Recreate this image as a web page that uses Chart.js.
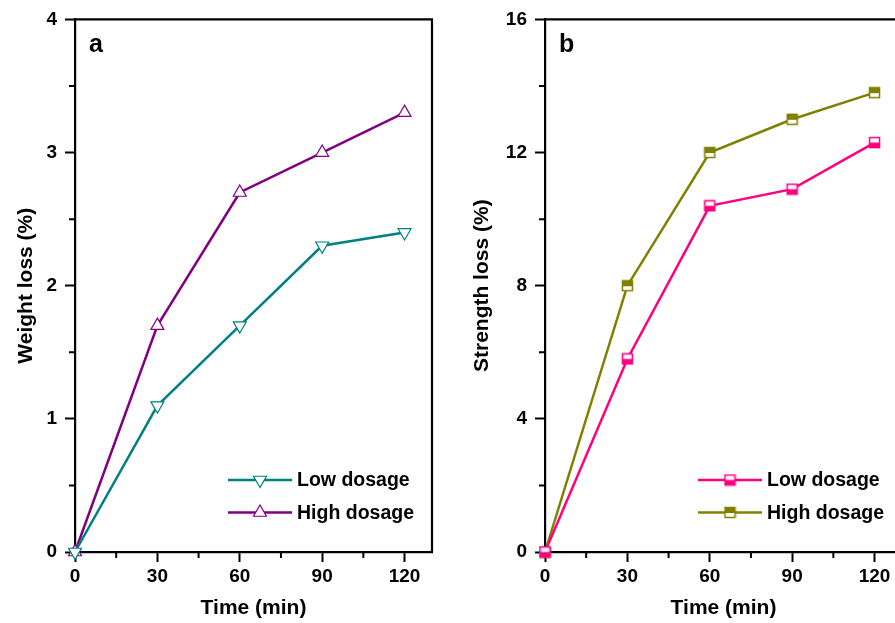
<!DOCTYPE html>
<html>
<head>
<meta charset="utf-8">
<script src="https://cdn.jsdelivr.net/npm/chart.js@4/dist/chart.umd.min.js"></script>
<style>
html, body { margin: 0; padding: 0; background: #fff; overflow: hidden; }
#wrap { position: relative; width: 895px; height: 623px; overflow: hidden; }
canvas { position: absolute; top: 0; }
</style>
</head>
<body>
<div id="wrap">
  <canvas id="chartA" width="460" height="623" style="left:0"></canvas>
  <canvas id="chartB" width="460" height="623" style="left:470px"></canvas>
</div>
<script>
// values
const times = [0, 30, 60, 90, 120];
const weightLow = [0, 1.1, 1.7, 2.3, 2.4];
const weightHigh = [0, 1.7, 2.7, 3.0, 3.3];
const strengthLow = [0, 5.8, 10.4, 10.9, 12.3];
const strengthHigh = [0, 8.0, 12.0, 13.0, 13.8];
const seriesNames = ['Low dosage', 'High dosage'];
const xTitle = 'Time (min)';

const FONT = "'Liberation Sans', Arial, sans-serif";

// half filled square marker
function halfSquare(color, filledBottom) {
    const s = 13;
    const c = document.createElement('canvas');
    c.width = s; c.height = s;
    const g = c.getContext('2d');
    g.fillStyle = '#fff';
    g.fillRect(1, 1, s - 2, s - 2);
    g.fillStyle = color;
    if (filledBottom) g.fillRect(1, s / 2, s - 2, s / 2 - 1);
    else g.fillRect(1, 1, s - 2, s / 2 - 0.5);
    g.strokeStyle = color;
    g.lineWidth = 1.5;
    g.strokeRect(1.5, 1.5, s - 3, s - 3);
    return c;
}

function drawTri(ctx, x, y, r, rotation, color) {
    let rad = rotation * Math.PI / 180;
    ctx.beginPath();
    ctx.moveTo(x + Math.sin(rad) * r, y - Math.cos(rad) * r);
    rad += 2 * Math.PI / 3;
    ctx.lineTo(x + Math.sin(rad) * r, y - Math.cos(rad) * r);
    rad += 2 * Math.PI / 3;
    ctx.lineTo(x + Math.sin(rad) * r, y - Math.cos(rad) * r);
    ctx.closePath();
    ctx.fillStyle = '#fff';
    ctx.fill();
    ctx.strokeStyle = color;
    ctx.lineWidth = 1.2;
    ctx.stroke();
}

const decor = {
    id: 'decor',
    afterDraw(chart) {
        const o = chart.options.plugins.decor;
        const ctx = chart.ctx, a = chart.chartArea;
        const xs = chart.scales.x, ys = chart.scales.y;
        ctx.save();
        // frame top and right
        ctx.strokeStyle = '#000';
        ctx.lineWidth = 2.2;
        ctx.beginPath();
        ctx.moveTo(a.left, a.top);
        ctx.lineTo(a.right + 1, a.top);
        ctx.moveTo(a.right, a.top);
        ctx.lineTo(a.right, a.bottom);
        ctx.stroke();
        // minor ticks
        ctx.lineWidth = 2;
        ctx.beginPath();
        for (let v = 15; v < xs.max; v += 30) {
            const px = xs.getPixelForValue(v);
            ctx.moveTo(px, a.bottom);
            ctx.lineTo(px, a.bottom + 6);
        }
        for (let v = o.yMinor; v < ys.max; v += o.yMinor * 2) {
            const py = ys.getPixelForValue(v);
            ctx.moveTo(a.left, py);
            ctx.lineTo(a.left - 6, py);
        }
        ctx.stroke();

        // titles
        ctx.fillStyle = '#000';
        ctx.font = 'bold 21px ' + FONT;
        ctx.textAlign = 'center';
        ctx.textBaseline = 'middle';
        ctx.fillText(xTitle, (a.left + a.right) / 2, 608);
        ctx.save();
        ctx.translate(o.yTitleX, (a.top + a.bottom) / 2);
        ctx.rotate(-Math.PI / 2);
        ctx.fillText(o.yTitle, 0, 0);
        ctx.restore();

        // panel letter
        ctx.font = 'bold 25px ' + FONT;
        ctx.textAlign = 'left';
        ctx.fillText(o.letter, a.left + 14, a.top + 26);

        // legend
        chart.data.datasets.forEach((ds, i) => {
            const y = a.bottom - 72 + i * 32.5;
            const x0 = a.left + 153, x1 = a.left + 217, xm = (x0 + x1) / 2;
            ctx.strokeStyle = ds.borderColor;
            ctx.lineWidth = 2.5;
            ctx.beginPath();
            ctx.moveTo(x0, y);
            ctx.lineTo(x1, y);
            ctx.stroke();
            if (ds.pointStyle === 'triangle') {
                drawTri(ctx, xm, y, ds.pointRadius, ds.pointRotation || 0, ds.borderColor);
            } else {
                const img = ds.pointStyle;
                ctx.drawImage(img, xm - img.width / 2, y - img.height / 2);
            }
            ctx.fillStyle = '#000';
            ctx.font = 'bold 19.5px ' + FONT;
            ctx.textAlign = 'left';
            ctx.fillText(ds.label, x1 + 5, y + 1);
        });
        ctx.restore();
    }
};

function makePanel(id, p) {
    const datasets = p.series.map((s) => ({
        label: s.name,
        data: times.map((t, i) => ({ x: t, y: s.values[i] })),
        borderColor: s.color,
        borderWidth: 2.5,
        pointStyle: s.marker,
        pointRotation: s.rotation || 0,
        pointRadius: s.radius,
        pointHoverRadius: s.radius,
        pointBackgroundColor: '#fff',
        pointBorderColor: s.color,
        pointBorderWidth: 1.2,
        tension: 0,
        clip: false,
    }));

    new Chart(document.getElementById(id), {
        type: 'line',
        data: { datasets: datasets },
        options: {
            responsive: false,
            animation: false,
            layout: { padding: { top: 17, right: 28, left: 0, bottom: 0 } },
            plugins: {
                legend: { display: false },
                tooltip: { enabled: false },
                decor: { letter: p.letter, yTitle: p.yTitle, yTitleX: p.yTitleX, yMinor: p.yMinor },
            },
            scales: {
                x: {
                    type: 'linear',
                    min: 0,
                    max: 130,
                    afterFit: (s) => { s.height = 71; },
                    ticks: {
                        stepSize: 30,
                        includeBounds: false,
                        maxRotation: 0,
                        padding: 3,
                        color: '#000',
                        font: { family: FONT, size: 19, weight: 'bold' },
                    },
                    grid: { drawOnChartArea: false, tickLength: 10, tickColor: '#000', tickWidth: 2 },
                    border: { color: '#000', width: 2.2 },
                },
                y: {
                    min: 0,
                    max: p.yMax,
                    afterFit: (s) => { s.width = 75; },
                    ticks: {
                        stepSize: p.yStep,
                        includeBounds: false,
                        padding: 8,
                        color: '#000',
                        font: { family: FONT, size: 19, weight: 'bold' },
                    },
                    grid: { drawOnChartArea: false, tickLength: 10, tickColor: '#000', tickWidth: 2 },
                    border: { color: '#000', width: 2.2 },
                },
            },
        },
        plugins: [decor],
    });
}

makePanel('chartA', {
    letter: 'a',
    yTitle: 'Weight loss (%)',
    yTitleX: 26,
    yMax: 4,
    yStep: 1,
    yMinor: 0.5,
    series: [
        { name: seriesNames[0], values: weightLow, color: '#008080', marker: 'triangle', rotation: 180, radius: 7.5 },
        { name: seriesNames[1], values: weightHigh, color: '#800080', marker: 'triangle', rotation: 0, radius: 7.5 },
    ],
});

makePanel('chartB', {
    letter: 'b',
    yTitle: 'Strength loss (%)',
    yTitleX: 12,
    yMax: 16,
    yStep: 4,
    yMinor: 2,
    series: [
        { name: seriesNames[0], values: strengthLow, color: '#ff0080', marker: halfSquare('#ff0080', true), radius: 6.5 },
        { name: seriesNames[1], values: strengthHigh, color: '#808000', marker: halfSquare('#808000', false), radius: 6.5 },
    ],
});
</script>
</body>
</html>
